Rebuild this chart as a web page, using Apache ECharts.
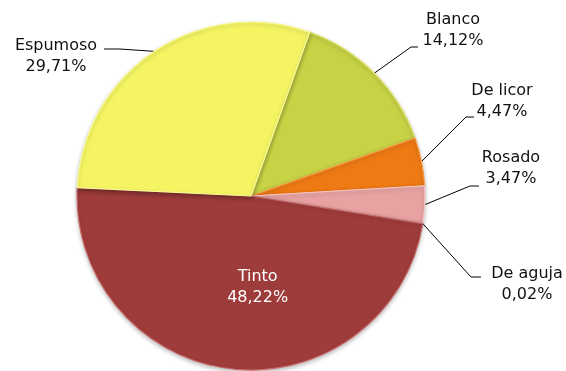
<!DOCTYPE html>
<html>
<head>
<meta charset="utf-8">
<script src="https://cdn.jsdelivr.net/npm/echarts@6/dist/echarts.min.js"></script>
<style>html,body{margin:0;padding:0;background:#fff}#c{width:566px;height:371px}</style>
</head>
<body>
<div id="c"></div>
<script>
// Data (clockwise order from the top)
const categories = ['Blanco', 'De licor', 'Rosado', 'De aguja', 'Tinto', 'Espumoso'];
const values = [14.12, 4.47, 3.47, 0.02, 48.22, 29.71];

// Styling / layout (not data)
const colors = ['#C8D245', '#EE7A14', '#E8A2A2', '#B08080', '#9E3C3B', '#F5F563'];
const borders = ['#DCE46A', '#F8A050', '#F6C8C8', '#B08080', '#C86868', '#FAFA96'];
const labelPos = [[453, 30], [502, 101], [511, 168], [527, 284], null, [56, 56]];
// leader-line bend point and end point near the label
const linePts = [
  [[411, 47], [418, 47]],
  [[466, 117], [474, 117]],
  [[470, 186], [479, 186]],
  [[471, 277], [481, 277]],
  null,
  [[120, 49], [104, 49]]
];

const chart = echarts.init(document.getElementById('c'), null, {renderer: 'canvas'});
const fmt = v => v.toFixed(2).replace('.', ',') + '%';

chart.setOption({
  animation: false,
  series: [{
    type: 'pie',
    center: [251, 196],
    radius: 174,
    startAngle: 70.3,
    clockwise: true,
    minAngle: 0,
    avoidLabelOverlap: false,
    itemStyle: {
      borderWidth: 1.2,
      shadowBlur: 4,
      shadowColor: 'rgba(0,0,0,0.25)',
      shadowOffsetY: 2
    },
    label: {
      show: true,
      position: 'outside',
      formatter: p => p.name + '\n' + fmt(p.value),
      fontFamily: 'DejaVu Sans',
      fontSize: 16,
      lineHeight: 21,
      color: '#111',
      align: 'center'
    },
    labelLine: {
      show: true,
      length: 12,
      length2: 6,
      lineStyle: {color: '#000', width: 1}
    },
    labelLayout: function (params) {
      const i = params.dataIndex;
      const p = labelPos[i];
      if (!p) return {dx: 16, dy: 2};
      const anchor = params.labelLinePoints ? params.labelLinePoints[0] : null;
      const res = {x: p[0], y: p[1], align: 'center', verticalAlign: 'middle'};
      if (anchor) res.labelLinePoints = [anchor, linePts[i][0], linePts[i][1]];
      return res;
    },
    data: categories.map((c, i) => {
      const d = {name: c, value: values[i], itemStyle: {color: colors[i], borderColor: borders[i]}};
      if (c === 'Tinto') {
        d.label = {position: 'inner', color: '#fff', fontSize: 16};
        d.labelLine = {show: false};
      }
      return d;
    })
  }]
});
</script>
</body>
</html>
